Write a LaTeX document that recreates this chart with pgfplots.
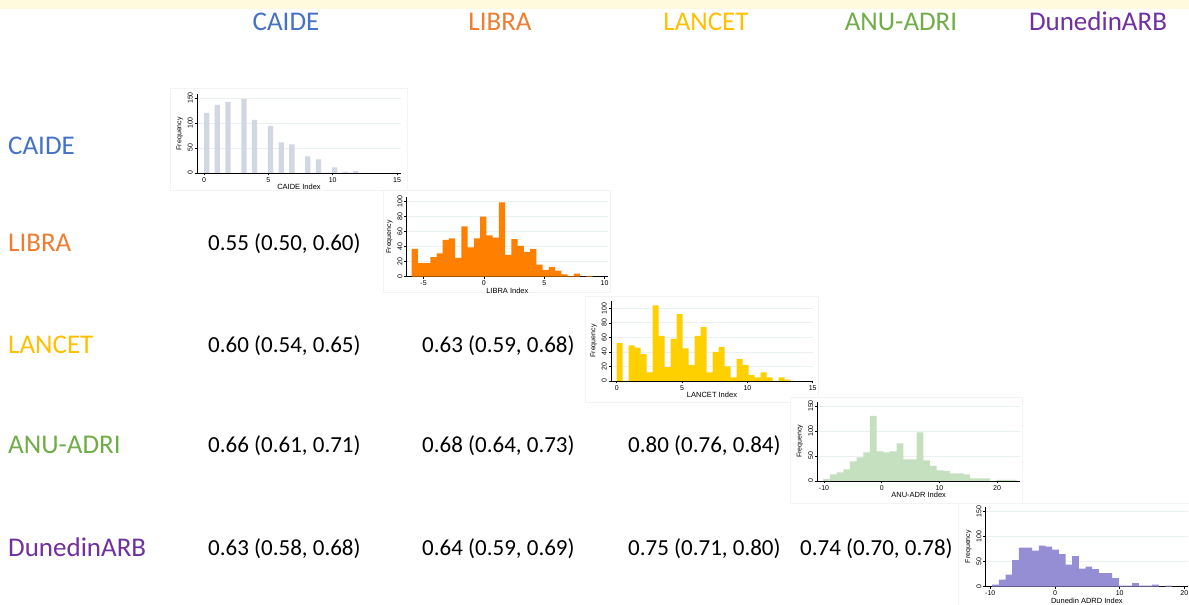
\documentclass[border=0pt]{standalone}
\usepackage{pgfplots}
\pgfplotsset{compat=1.18}
\usepackage{fontspec}
\setmainfont{Carlito}
\newfontfamily\arialf{Liberation Sans}

\definecolor{cBlue}{RGB}{68,114,196}
\definecolor{cOrange}{RGB}{237,125,49}
\definecolor{cGold}{RGB}{255,192,0}
\definecolor{cGreen}{RGB}{112,173,71}
\definecolor{cPurple}{RGB}{112,48,160}
\definecolor{hCaide}{RGB}{210,215,228}
\definecolor{hLibra}{RGB}{255,128,0}
\definecolor{hLancet}{RGB}{255,208,0}
\definecolor{hAnu}{RGB}{196,224,190}
\definecolor{hDun}{RGB}{150,142,212}
\definecolor{gridc}{RGB}{232,240,242}
\definecolor{bandc}{RGB}{255,249,222}
\definecolor{framec}{RGB}{243,243,243}

\newcommand{\hdr}{\fontsize{27}{32}\selectfont}
\newcommand{\corr}{\fontsize{23}{28}\selectfont}

\pgfplotsset{
  hist/.style={
    scale only axis,
    anchor=south west,
    axis lines*=left,
    axis line style={black, line width=0.5pt},
    ymin=0,
    ymajorgrids,
    grid style={gridc, line width=0.7pt},
    tick align=outside,
    major tick length=2.5pt,
    tick style={black, line width=0.5pt},
    ticklabel style={font=\arialf\fontsize{7}{8}\selectfont, inner sep=1.5pt},
    /pgf/number format/assume math mode=true,
    yticklabel style={rotate=90, anchor=south},
    ylabel={Frequency},
    ylabel style={font=\arialf\fontsize{7}{8}\selectfont, yshift=0pt},
    xlabel style={font=\arialf\fontsize{7.5}{8}\selectfont, yshift=3pt},
  }
}

\begin{document}
\begin{tikzpicture}
\useasboundingbox (0,0) rectangle (1189pt,605pt);
\clip (0,0) rectangle (1189pt,605pt);
\fill[white] (0,0) rectangle (1189pt,605pt);
\fill[bandc] (0,596pt) rectangle (1189pt,605pt);

% column headers
\node[anchor=base, text=cBlue,   font=\hdr, inner sep=0pt] at (286pt,574.3pt) {CAIDE};
\node[anchor=base, text=cOrange, font=\hdr, inner sep=0pt] at (500pt,574.3pt) {LIBRA};
\node[anchor=base, text=cGold,   font=\hdr, inner sep=0pt] at (706pt,574.3pt) {LANCET};
\node[anchor=base, text=cGreen,  font=\hdr, inner sep=0pt] at (901pt,574.3pt) {ANU-ADRI};
\node[anchor=base, text=cPurple, font=\hdr, inner sep=0pt] at (1098pt,574.3pt) {DunedinARB};

% row labels
\node[anchor=base west, text=cBlue,   font=\hdr, inner sep=0pt] at (8pt,450.5pt) {CAIDE};
\node[anchor=base west, text=cOrange, font=\hdr, inner sep=0pt] at (8pt,353.5pt) {LIBRA};
\node[anchor=base west, text=cGold,   font=\hdr, inner sep=0pt] at (8pt,251.5pt) {LANCET};
\node[anchor=base west, text=cGreen,  font=\hdr, inner sep=0pt] at (8pt,151.5pt) {ANU-ADRI};
\node[anchor=base west, text=cPurple, font=\hdr, inner sep=0pt] at (8pt,48.5pt) {DunedinARB};

% correlations
\node[anchor=base west, font=\corr, inner sep=0pt] at (208pt,354.5pt) {0.55 (0.50, 0.60)};
\node[anchor=base west, font=\corr, inner sep=0pt] at (208pt,252.5pt) {0.60 (0.54, 0.65)};
\node[anchor=base west, font=\corr, inner sep=0pt] at (422pt,252.5pt) {0.63 (0.59, 0.68)};
\node[anchor=base west, font=\corr, inner sep=0pt] at (208pt,152.5pt) {0.66 (0.61, 0.71)};
\node[anchor=base west, font=\corr, inner sep=0pt] at (422pt,152.5pt) {0.68 (0.64, 0.73)};
\node[anchor=base west, font=\corr, inner sep=0pt] at (628pt,152.5pt) {0.80 (0.76, 0.84)};
\node[anchor=base west, font=\corr, inner sep=0pt] at (208pt,49.5pt) {0.63 (0.58, 0.68)};
\node[anchor=base west, font=\corr, inner sep=0pt] at (422pt,49.5pt) {0.64 (0.59, 0.69)};
\node[anchor=base west, font=\corr, inner sep=0pt] at (628pt,49.5pt) {0.75 (0.71, 0.80)};
\node[anchor=base west, font=\corr, inner sep=0pt] at (800pt,49.5pt) {0.74 (0.70, 0.78)};

% CAIDE panel
\draw[framec, fill=white, line width=0.6pt] (170pt,415pt) rectangle (407pt,517pt);
\begin{axis}[hist, at={(197pt,432pt)}, width=204pt, height=78.5pt,
  xmin=-0.544, xmax=15.31, ymax=157,
  xtick={0,5,10,15}, ytick={0,50,100,150}, xlabel={CAIDE Index}]
\addplot[ybar interval, fill=hCaide, draw=none] coordinates {
(0,120)(0.41379,0)(0.82759,136)(1.24138,0)(1.65517,142)(2.06897,0)(2.48276,0)
(2.89655,148)(3.31034,0)(3.72414,106)(4.13793,0)(4.55172,0)(4.96552,94)
(5.37931,0)(5.7931,61)(6.2069,0)(6.62069,57)(7.03448,0)(7.44828,0)(7.86207,33)
(8.27586,0)(8.68966,27)(9.10345,0)(9.51724,0)(9.93103,11)(10.34483,0)
(10.75862,2)(11.17241,0)(11.58621,4)(12,0)};
\end{axis}

% LIBRA panel
\draw[framec, fill=white, line width=0.6pt] (383pt,313pt) rectangle (610pt,415pt);
\begin{axis}[hist, at={(406.7pt,328.3pt)}, width=201.3pt, height=79.4pt,
  xmin=-6.40, xmax=10.28, ymax=105.9,
  xtick={-5,0,5,10}, ytick={0,20,40,60,80,100}, xlabel={LIBRA Index}]
\addplot[ybar interval, fill=hLibra, draw=none] coordinates {
(-6,37)(-5.48276,18)(-4.96552,18)(-4.44828,26)(-3.93103,31)(-3.41379,49)
(-2.89655,51)(-2.37931,25)(-1.86207,67)(-1.34483,39)(-0.82759,51)(-0.31034,80)
(0.2069,55)(0.72414,52)(1.24138,99)(1.75862,29)(2.27586,50)(2.7931,41)
(3.31034,33)(3.82759,37)(4.34483,16)(4.86207,9)(5.37931,13)(5.89655,8)
(6.41379,3)(6.93103,1)(7.44828,4)(7.96552,0)(8.48276,1)(9,0)};
\end{axis}

% LANCET panel
\draw[framec, fill=white, line width=0.6pt] (585pt,203pt) rectangle (818pt,309pt);
\begin{axis}[hist, at={(611pt,224pt)}, width=202pt, height=80pt,
  xmin=-0.436, xmax=15.02, ymax=110,
  xtick={0,5,10,15}, ytick={0,20,40,60,80,100}, xlabel={LANCET Index}]
\addplot[ybar interval, fill=hLancet, draw=none] coordinates {
(0,52)(0.45862,0)(0.91724,49)(1.37586,46)(1.83448,37)(2.2931,12)(2.75172,104)
(3.21034,62)(3.66897,19)(4.12759,58)(4.58621,92)(5.04483,45)(5.50345,22)
(5.96207,62)(6.42069,74)(6.87931,12)(7.33793,40)(7.79655,47)(8.25517,20)
(8.71379,5)(9.17241,30)(9.63103,22)(10.08966,8)(10.54828,5)(11.0069,12)
(11.46552,5)(11.92414,0)(12.38276,5)(12.84138,2)(13.3,0)};
\end{axis}

% ANU-ADRI panel
\draw[framec, fill=white, line width=0.6pt] (790pt,102pt) rectangle (1022pt,208pt);
\begin{axis}[hist, at={(817.3pt,124pt)}, width=202.7pt, height=79.3pt,
  xmin=-11.16, xmax=23.97, ymax=158.6,
  xtick={-10,0,10,20}, ytick={0,50,100,150}, xlabel={ANU-ADR Index}]
\addplot[ybar interval, fill=hAnu, draw=none] coordinates {
(-10.12,4)(-8.96483,13)(-7.80966,17)(-6.65448,23)(-5.49931,39)(-4.34414,47)
(-3.18897,57)(-2.03379,130)(-0.87862,59)(0.27655,57)(1.43172,59)(2.5869,75)
(3.74207,43)(4.89724,43)(6.05241,97)(7.20759,41)(8.36276,30)(9.51793,21)
(10.6731,20)(11.82828,15)(12.98345,15)(14.13862,13)(15.29379,5)(16.44897,5)
(17.60414,5)(18.75931,0)(19.91448,2)(21.06966,2)(22.22483,2)(23.38,0)};
\end{axis}

% Dunedin panel
\draw[framec, fill=white, line width=0.6pt] (958pt,0pt) rectangle (1189pt,102pt);
\begin{axis}[hist, at={(985.7pt,18.3pt)}, width=202.3pt, height=80pt,
  xmin=-10.71, xmax=20.56, ymax=160,
  xtick={-10,0,10,20}, ytick={0,50,100,150}, xlabel={Dunedin ADRD Index}]
\addplot[ybar interval, fill=hDun, draw=none] coordinates {
(-9.7,4)(-8.67,14)(-7.64,24)(-6.61,53)(-5.58,78)(-4.55,78)(-3.52,72)(-2.49,82)
(-1.46,80)(-0.43,74)(0.6,65)(1.63,44)(2.66,61)(3.69,36)(4.72,40)(5.75,35)
(6.78,27)(7.81,27)(8.84,17)(9.87,2)(10.9,2)(11.93,7)(12.96,2)(13.99,2)
(15.02,4)(16.05,0)(17.08,2)(18.11,0)};
\end{axis}
\end{tikzpicture}
\end{document}
